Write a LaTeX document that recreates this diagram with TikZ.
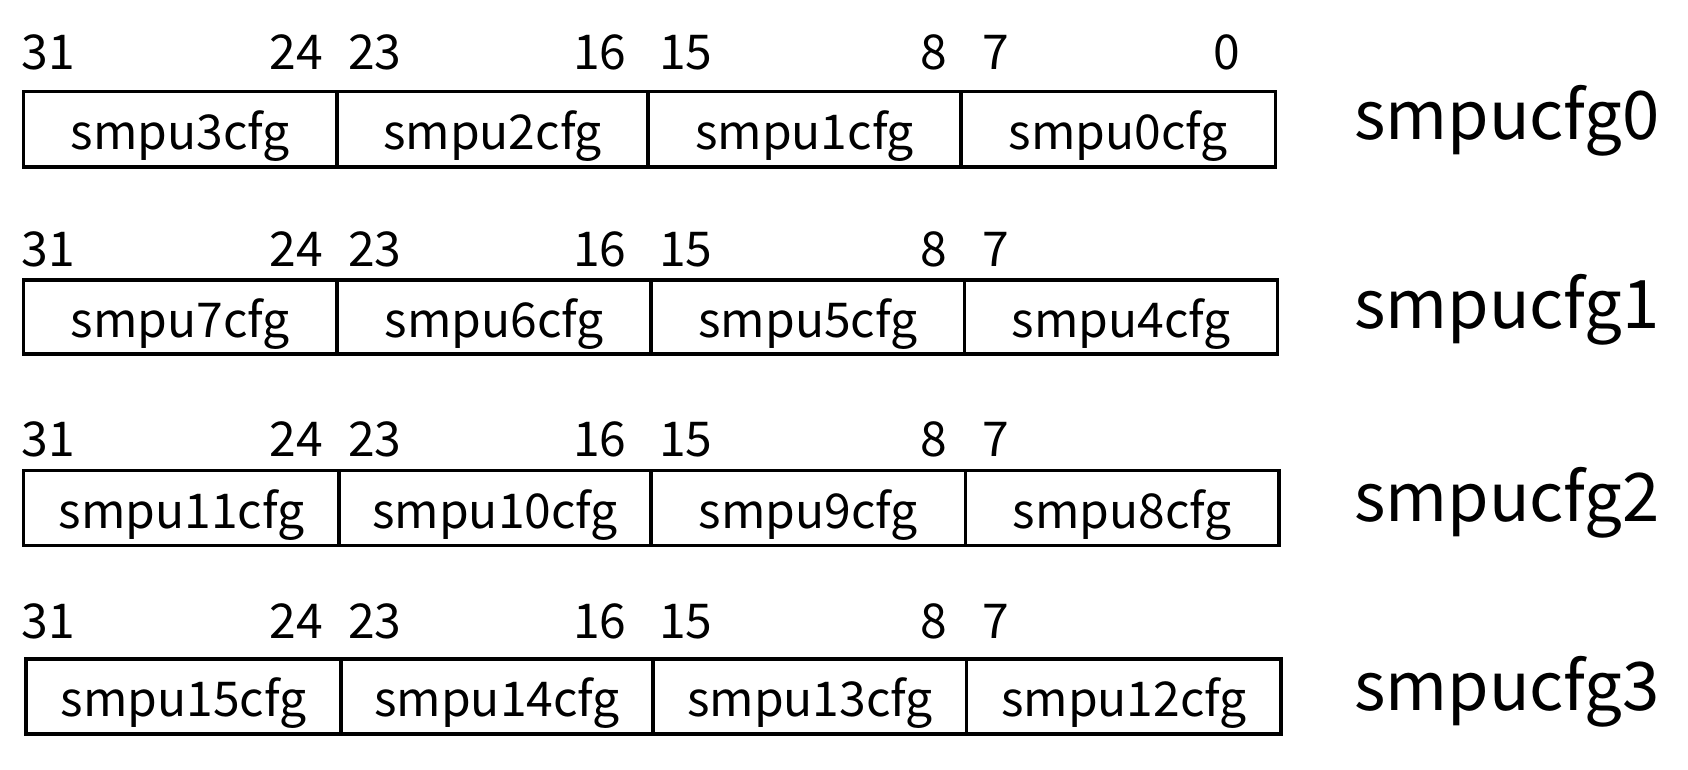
\documentclass[tikz,border=0pt]{standalone}
\usepackage{fontspec}
\setmainfont{Noto Sans CJK SC}
\begin{document}
\begin{tikzpicture}[x=1pt,y=-1pt,
  cell/.style={draw, line width=3.5pt, inner sep=0pt, outer sep=0pt, text height=45pt, text depth=5pt, font=\fontsize{48}{52}\selectfont},
  bitnum/.style={inner sep=0pt, font=\fontsize{48}{52}\selectfont},
  reglabel/.style={inner sep=0pt, anchor=base west, font=\fontsize{67}{72}\selectfont}]
\useasboundingbox (0,0) rectangle (1688,770);
% row 0
\foreach \n/\a/\b/\t in {a/23.7/337/smpu3cfg, b/337/648/smpu2cfg, c/648/961/smpu1cfg, d/961/1275.6/smpu0cfg}{
  \node[cell, minimum width={\b-\a}, minimum height=75.5] (r0\n) at ({(\a+\b)/2},129.25) {\t};}
% row 1
\foreach \n/\a/\b/\t in {a/23.7/337/smpu7cfg, b/337/651/smpu6cfg, c/651/964.6/smpu5cfg, d/964.6/1277.7/smpu4cfg}{
  \node[cell, minimum width={\b-\a}, minimum height=74] (r1\n) at ({(\a+\b)/2},317) {\t};}
% row 2
\foreach \n/\a/\b/\t in {a/23.7/339/smpu11cfg, b/339/651/smpu10cfg, c/651/965.6/smpu9cfg, d/965.6/1278.8/smpu8cfg}{
  \node[cell, minimum width={\b-\a}, minimum height=75] (r2\n) at ({(\a+\b)/2},508) {\t};}
% row 3
\foreach \n/\a/\b/\t in {a/25.8/341/smpu15cfg, b/341/653/smpu14cfg, c/653/966.7/smpu13cfg, d/966.7/1281/smpu12cfg}{
  \node[cell, minimum width={\b-\a}, minimum height=75] (r3\n) at ({(\a+\b)/2},696.5) {\t};}
% bit numbers
\foreach \r/\y in {0/70,1/266,2/456.5,3/638}{
  \node[bitnum, anchor=base west] (n\r31) at (21.5,\y) {31};
  \node[bitnum, anchor=base east] (n\r24) at (323,\y) {24};
  \node[bitnum, anchor=base west] (n\r23) at (348,\y) {23};
  \node[bitnum, anchor=base east] (n\r16) at (626.5,\y) {16};
  \node[bitnum, anchor=base west] (n\r15) at (659,\y) {15};
  \node[bitnum, anchor=base east] (n\r8) at (947,\y) {8};
  \node[bitnum, anchor=base west] (n\r7) at (982,\y) {7};
}
\node[bitnum, anchor=base east] (n00) at (1240,70) {0};
% register labels
\node[reglabel] (l0) at (1354,140) {smpucfg0};
\node[reglabel] (l1) at (1354,328) {smpucfg1};
\node[reglabel] (l2) at (1354,521) {smpucfg2};
\node[reglabel] (l3) at (1354,710.5) {smpucfg3};
\end{tikzpicture}
\end{document}
